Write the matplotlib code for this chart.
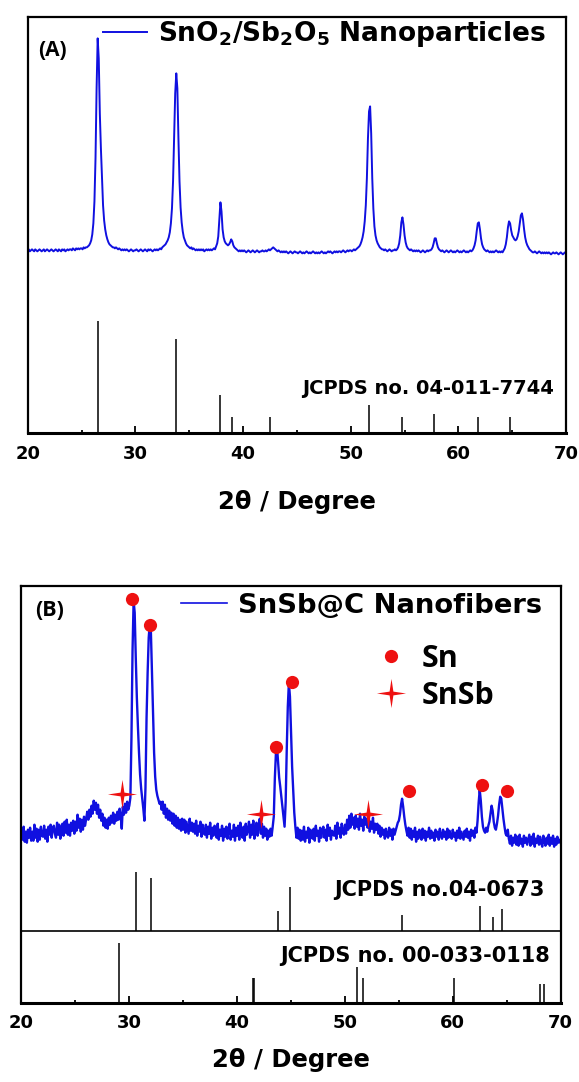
import numpy as np
import matplotlib.pyplot as plt
from matplotlib.lines import Line2D
from matplotlib.ticker import MultipleLocator

# scan grid, 0.1 degree step
two_theta = np.linspace(20, 70, 501)

# (A) SnO2/Sb2O5 nanoparticles (arb. units)
intensity_a = [
    183, 184, 182, 183, 184, 183, 182, 184, 183, 182,  # 20
    183, 184, 183, 182, 183, 184, 182, 183, 184, 183,  # 21
    182, 183, 184, 183, 182, 183, 184, 183, 182, 184,  # 22
    183, 182, 184, 183, 184, 182, 183, 184, 183, 184,  # 23
    184, 183, 185, 184, 183, 185, 184, 185, 184, 185,  # 24
    185, 184, 186, 185, 186, 186, 187, 188, 190, 193,  # 25
    199, 210, 232, 275, 345, 395, 375, 320, 285, 255,  # 26
    228, 213, 204, 198, 194, 191, 189, 188, 187, 186,  # 27
    186, 185, 186, 185, 184, 185, 184, 183, 184, 183,  # 28
    184, 183, 184, 183, 182, 183, 184, 183, 182, 183,  # 29
    183, 184, 183, 182, 183, 184, 183, 182, 183, 184,  # 30
    183, 182, 184, 183, 184, 183, 182, 183, 184, 183,  # 31
    184, 183, 184, 185, 184, 186, 187, 188, 189, 191,  # 32
    193, 196, 201, 210, 225, 252, 298, 340, 360, 345,  # 33
    295, 252, 226, 211, 202, 196, 193, 190, 188, 187,  # 34
    186, 185, 186, 184, 185, 184, 183, 184, 183, 184,  # 35
    183, 184, 183, 184, 182, 183, 184, 183, 184, 183,  # 36
    184, 183, 184, 185, 184, 187, 190, 197, 214, 231,  # 37
    222, 204, 196, 192, 190, 189, 188, 189, 191, 194,  # 38
    192, 188, 186, 185, 184, 183, 182, 183, 182, 183,  # 39
    182, 183, 182, 181, 182, 183, 182, 181, 182, 183,  # 40
    182, 181, 182, 183, 182, 181, 182, 182, 183, 182,  # 41
    182, 183, 182, 183, 184, 183, 184, 185, 186, 185,  # 42
    184, 183, 182, 183, 182, 181, 182, 181, 182, 181,  # 43
    182, 181, 180, 181, 182, 181, 180, 181, 182, 181,  # 44
    181, 180, 181, 182, 181, 180, 181, 180, 181, 182,  # 45
    181, 180, 181, 180, 181, 182, 181, 180, 181, 180,  # 46
    181, 180, 181, 182, 181, 180, 181, 180, 181, 182,  # 47
    181, 182, 181, 180, 181, 182, 181, 182, 181, 182,  # 48
    182, 181, 182, 183, 182, 181, 182, 183, 182, 183,  # 49
    183, 182, 183, 184, 183, 184, 185, 186, 187, 189,  # 50
    192, 196, 202, 212, 228, 255, 295, 322, 327, 300,  # 51
    255, 225, 207, 198, 193, 190, 188, 186, 185, 184,  # 52
    184, 183, 184, 183, 182, 183, 184, 183, 182, 183,  # 53
    183, 184, 183, 184, 186, 190, 198, 211, 216, 209,  # 54
    198, 191, 187, 185, 184, 183, 184, 183, 182, 183,  # 55
    182, 183, 182, 183, 182, 181, 182, 183, 182, 181,  # 56
    182, 183, 182, 183, 183, 184, 186, 190, 195, 195,  # 57
    190, 186, 184, 183, 182, 183, 182, 181, 182, 183,  # 58
    182, 181, 182, 183, 182, 181, 182, 181, 182, 183,  # 59
    182, 181, 182, 181, 182, 183, 182, 181, 182, 181,  # 60
    182, 183, 182, 183, 185, 188, 193, 202, 210, 211,  # 61
    204, 195, 189, 186, 184, 183, 182, 183, 182, 181,  # 62
    182, 181, 182, 181, 182, 183, 182, 181, 182, 181,  # 63
    182, 181, 183, 185, 189, 196, 206, 212, 210, 203,  # 64
    198, 196, 194, 193, 194, 197, 202, 210, 218, 220,  # 65
    214, 204, 196, 191, 188, 186, 184, 183, 182, 181,  # 66
    181, 182, 181, 180, 181, 182, 181, 180, 181, 180,  # 67
    181, 180, 181, 180, 181, 180, 179, 180, 181, 180,  # 68
    180, 181, 180, 179, 180, 181, 180, 179, 180, 181,  # 69
    180,
]

# JCPDS no. 04-011-7744 reference lines
ref_a_pos = [26.52, 33.82, 37.90, 38.93, 42.53, 51.72, 54.74, 57.72, 61.84, 64.75]
ref_a_int = [112, 94, 38, 16, 16, 28, 16, 19, 16, 16]

# (B) SnSb@C nanofibers
intensity_b = [
    174, 163, 176, 161, 171, 160, 173, 165, 175, 162,  # 20
    171, 162, 178, 165, 174, 161, 173, 163, 176, 167,  # 21
    166, 177, 164, 173, 161, 176, 168, 178, 165, 174,  # 22
    177, 169, 165, 180, 168, 178, 164, 174, 179, 167,  # 23
    181, 170, 183, 168, 178, 167, 180, 172, 182, 169,  # 24
    181, 172, 188, 175, 184, 171, 183, 173, 186, 177,  # 25
    184, 191, 183, 193, 186, 197, 189, 202, 193, 200,  # 26
    189, 198, 185, 193, 182, 189, 177, 185, 175, 183,  # 27
    174, 185, 178, 187, 180, 190, 179, 188, 182, 191,  # 28
    183, 194, 187, 174, 196, 188, 199, 190, 201, 193,  # 29
    197, 205, 265, 352, 402, 390, 345, 305, 276, 250,  # 30
    228, 214, 204, 194, 182, 215, 285, 330, 365, 379,  # 31
    372, 330, 285, 250, 226, 213, 207, 203, 199, 201,  # 32
    193, 201, 189, 198, 185, 194, 183, 192, 182, 190,  # 33
    179, 189, 177, 187, 175, 185, 174, 183, 172, 184,  # 34
    173, 183, 170, 181, 175, 169, 184, 172, 180, 171,  # 35
    179, 169, 182, 167, 177, 171, 181, 166, 178, 170,  # 36
    168, 178, 165, 176, 169, 180, 164, 175, 167, 177,  # 37
    175, 165, 179, 163, 173, 167, 177, 162, 174, 166,  # 38
    176, 164, 173, 179, 163, 172, 166, 178, 162, 175,  # 39
    167, 177, 163, 180, 169, 165, 176, 162, 179, 168,  # 40
    173, 181, 165, 178, 168, 182, 164, 175, 180, 167,  # 41
    177, 184, 169, 179, 165, 176, 167, 174, 163, 172,  # 42
    166, 174, 167, 176, 186, 225, 250, 256, 240, 225,  # 43
    216, 206, 196, 186, 176, 200, 252, 296, 320, 306,  # 44
    270, 236, 212, 190, 176, 165, 175, 164, 173, 162,  # 45
    172, 163, 176, 161, 171, 165, 175, 160, 173, 166,  # 46
    164, 174, 162, 177, 167, 172, 161, 175, 165, 173,  # 47
    176, 165, 173, 162, 178, 167, 175, 163, 172, 168,  # 48
    167, 177, 164, 180, 169, 175, 165, 179, 171, 168,  # 49
    178, 169, 183, 173, 187, 175, 189, 178, 185, 174,  # 50
    187, 176, 184, 173, 189, 177, 183, 172, 186, 178,  # 51
    184, 175, 187, 171, 181, 174, 185, 170, 179, 173,  # 52
    179, 169, 177, 166, 175, 168, 173, 164, 174, 167,  # 53
    165, 175, 167, 173, 163, 174, 168, 172, 176, 180,  # 54
    182, 188, 198, 204, 196, 186, 178, 172, 167, 175,  # 55
    165, 174, 163, 172, 166, 175, 161, 171, 164, 173,  # 56
    167, 163, 174, 165, 172, 162, 171, 166, 175, 164,  # 57
    172, 165, 170, 162, 173, 166, 171, 163, 174, 167,  # 58
    164, 173, 166, 171, 163, 174, 165, 172, 167, 164,  # 59
    173, 166, 170, 162, 172, 165, 175, 164, 171, 167,  # 60
    163, 172, 166, 174, 165, 171, 162, 173, 167, 172,  # 61
    165, 175, 170, 182, 200, 213, 202, 186, 176, 172,  # 62
    170, 175, 171, 177, 181, 189, 197, 192, 181, 175,  # 63
    173, 179, 187, 198, 206, 204, 194, 184, 176, 169,  # 64
    167, 173, 164, 159, 167, 157, 165, 160, 168, 158,  # 65
    166, 157, 168, 159, 164, 156, 167, 160, 165, 158,  # 66
    163, 168, 157, 166, 159, 169, 156, 164, 160, 167,  # 67
    158, 166, 160, 156, 167, 161, 157, 165, 159, 168,  # 68
    157, 165, 159, 167, 156, 164, 158, 166, 160, 163,  # 69
    160,
]

# JCPDS no.04-0673 (Sn), drawn on the upper strip
ref_sn_pos = [30.60, 31.97, 43.83, 44.86, 55.29, 62.49, 63.72, 64.55]
ref_sn_int = [59, 53, 20, 44, 16, 25, 14, 22]
# JCPDS no. 00-033-0118 (SnSb)
ref_snsb_pos = [29.02, 41.47, 41.60, 51.14, 51.72, 60.16, 68.08, 68.49]
ref_snsb_int = [60, 25, 25, 36, 25, 25, 19, 19]
strip_base = 72

# phase marks on the pattern
sn_mark_x = [30.27, 31.88, 43.61, 45.09, 55.93, 62.71, 65.00]
sn_mark_y = [404, 378, 256, 321, 212, 218, 212]
snsb_mark_x = [29.34, 42.18, 52.10]
snsb_mark_y = [209, 189, 189]

blue = '#1010e0'
red = '#ee1111'
star = [(0, 1), (0.13, 0.13), (1, 0), (0.13, -0.13), (0, -1),
        (-0.13, -0.13), (-1, 0), (-0.13, 0.13), (0, 1)]

plt.rcParams['font.family'] = 'DejaVu Sans'
plt.rcParams['font.weight'] = 'bold'
plt.rcParams['mathtext.fontset'] = 'dejavusans'
plt.rcParams['mathtext.default'] = 'bf'

fig = plt.figure(figsize=(5.79, 10.82), dpi=100)
ax1 = fig.add_axes([0.0478, 0.5995, 0.9299, 0.3851])
ax2 = fig.add_axes([0.0371, 0.0733, 0.9311, 0.3851])


def style_axis(ax, labelpad):
    ax.set_xlim(20, 70)
    ax.set_ylim(0, 416.7)
    ax.set_yticks([])
    ax.xaxis.set_major_locator(MultipleLocator(10))
    ax.xaxis.set_minor_locator(MultipleLocator(5))
    ax.tick_params(axis='x', which='major', direction='in', length=5, width=1.3,
                   labelsize=13, pad=8.5)
    ax.tick_params(axis='x', which='minor', direction='in', length=2.2, width=1.3)
    for s in ax.spines.values():
        s.set_linewidth(1.6)
    ax.spines['bottom'].set_linewidth(2.2)
    for lab in ax.get_xticklabels():
        lab.set_fontweight('bold')
    ax.set_xlabel('2θ / Degree', fontsize=17.5, fontweight='bold', labelpad=labelpad)


# panel A
ax1.plot(two_theta, intensity_a, color=blue, lw=1.4,
         label=r'SnO$_2$/Sb$_2$O$_5$ Nanoparticles')
ax1.vlines(ref_a_pos, 0, ref_a_int, color='black', lw=1.1)
ax1.text(0.9775, 44.5, 'JCPDS no. 04-011-7744', transform=ax1.get_yaxis_transform(),
         ha='right', va='center', fontsize=14, fontweight='bold')
ax1.text(0.0197, 0.9177, '(A)', transform=ax1.transAxes, ha='left', va='center',
         fontsize=15, fontweight='bold', family='Open Sans')
ax1.legend(loc='upper left', bbox_to_anchor=(0.1406, 0.994), frameon=False,
           borderpad=0, borderaxespad=0, handlelength=1.65, handletextpad=0.42,
           prop={'size': 19, 'weight': 'bold'})
style_axis(ax1, 19)

# panel B
ax2.plot(two_theta, intensity_b, color=blue, lw=1.7, label='SnSb@C Nanofibers')
ax2.axhline(strip_base, color='black', lw=1.2)
ax2.vlines(ref_sn_pos, strip_base, np.array(ref_sn_int) + strip_base, color='black', lw=1.1)
ax2.vlines(ref_snsb_pos, 0, ref_snsb_int, color='black', lw=1.1)
ax2.plot(sn_mark_x, sn_mark_y, 'o', color=red, ms=9.5, mec='none')
ax2.plot(snsb_mark_x, snsb_mark_y, ls='none', marker=star, color=red, ms=21, mec='none')
ax2.text(0.9705, 113, 'JCPDS no.04-0673', transform=ax2.get_yaxis_transform(),
         ha='right', va='center', fontsize=15, fontweight='bold')
ax2.text(0.9794, 46.5, 'JCPDS no. 00-033-0118', transform=ax2.get_yaxis_transform(),
         ha='right', va='center', fontsize=15, fontweight='bold')
ax2.text(0.0245, 0.9424, '(B)', transform=ax2.transAxes, ha='left', va='center',
         fontsize=15.5, fontweight='bold', family='Open Sans')
leg = ax2.legend(loc='upper left', bbox_to_anchor=(0.296, 0.9837), frameon=False,
                 borderpad=0, borderaxespad=0, handlelength=1.68, handletextpad=0.4,
                 prop={'size': 19.7, 'weight': 'bold'})
leg.get_lines()[0].set_linewidth(1.2)
ax2.add_artist(leg)
phase_handles = [
    Line2D([], [], ls='none', marker='o', color=red, ms=9.5, mec='none', label='Sn'),
    Line2D([], [], ls='none', marker=star, color=red, ms=21, mec='none', label='SnSb'),
]
ax2.legend(handles=phase_handles, loc='upper left', bbox_to_anchor=(0.657, 0.862),
           frameon=False, borderpad=0, borderaxespad=0, handlelength=1.0,
           handletextpad=0.51, labelspacing=0.24,
           prop={'family': 'Open Sans', 'size': 22, 'weight': 'bold'})
style_axis(ax2, 11)

fig.savefig('out.png', dpi=100)
